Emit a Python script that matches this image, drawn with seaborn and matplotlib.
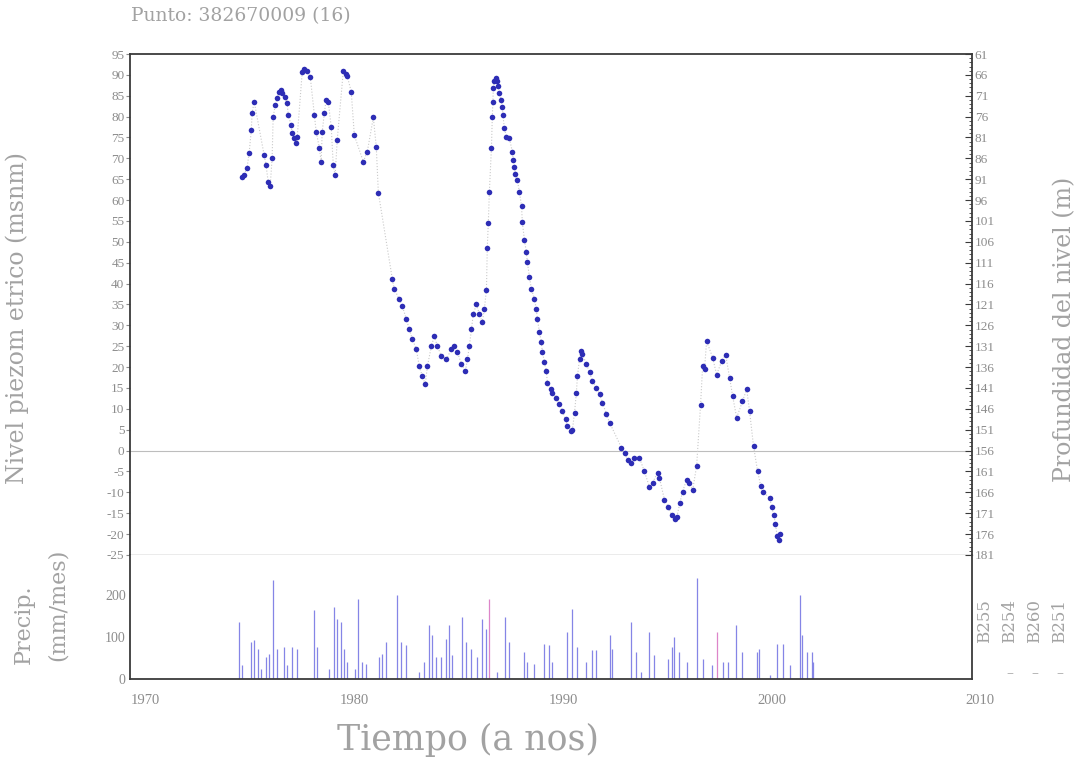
import matplotlib
matplotlib.use("Agg")
import matplotlib.pyplot as plt
from matplotlib.ticker import MultipleLocator
import seaborn as sns

# ── piezometric level (m a.s.l.) ─────────────────────────────────────
level_year = [
    1975.32, 1975.42, 1975.56, 1975.66, 1975.76, 1975.80, 1975.90,
    1976.38, 1976.47, 1976.57, 1976.67, 1976.76, 1976.81, 1976.91,
    1977.00, 1977.10, 1977.19, 1977.24, 1977.39, 1977.48, 1977.53, 1977.67, 1977.72, 1977.82, 1977.91, 1977.96,
    1978.20, 1978.30, 1978.44, 1978.59, 1978.78, 1978.87,
    1979.02, 1979.11, 1979.16, 1979.26, 1979.35, 1979.45, 1979.59, 1979.69, 1979.78, 1979.88,
    1980.17, 1980.31, 1980.36, 1980.55, 1980.70,
    1981.13, 1981.32, 1981.61, 1981.75, 1981.85,
    1982.52, 1982.61, 1982.85,
    1983.00, 1983.19, 1983.33, 1983.48, 1983.67, 1983.81, 1983.96,
    1984.10, 1984.20, 1984.39, 1984.53, 1984.68, 1984.87,
    1985.11, 1985.35, 1985.49, 1985.64, 1985.83,
    1986.02, 1986.12, 1986.21, 1986.31, 1986.40, 1986.55, 1986.69, 1986.83, 1986.93,
    1987.03, 1987.07, 1987.12, 1987.17, 1987.27, 1987.31, 1987.34, 1987.36, 1987.41, 1987.51, 1987.55, 1987.60, 1987.65, 1987.75, 1987.79, 1987.82, 1987.89, 1987.99,
    1988.13, 1988.27, 1988.32, 1988.37, 1988.42, 1988.51, 1988.61, 1988.71, 1988.75, 1988.85, 1988.94, 1988.99,
    1989.09, 1989.18, 1989.33, 1989.42, 1989.47, 1989.57, 1989.66, 1989.71, 1989.81, 1989.90, 1989.95,
    1990.10, 1990.19, 1990.38, 1990.53, 1990.67, 1990.82, 1990.91,
    1991.10, 1991.15, 1991.25, 1991.34, 1991.39, 1991.49, 1991.58, 1991.63, 1991.82, 1991.97,
    1992.11, 1992.30, 1992.45, 1992.59, 1992.78, 1992.93,
    1993.50, 1993.65, 1993.79, 1993.98,
    1994.12, 1994.36, 1994.60, 1994.84, 1994.99,
    1995.23, 1995.32, 1995.56, 1995.75, 1995.90,
    1996.05, 1996.15, 1996.30, 1996.43, 1996.62, 1996.76, 1996.91,
    1997.10, 1997.29, 1997.39, 1997.48, 1997.58, 1997.87,
    1998.06, 1998.30, 1998.49, 1998.68, 1998.83,
    1999.02, 1999.30, 1999.50, 1999.64, 1999.83,
    2000.02, 2000.17, 2000.26, 2000.60, 2000.70, 2000.80, 2000.88, 2000.96,
    2001.05, 2001.12,
]
level_m = [
    65.6, 66.0, 67.8, 71.4, 76.7, 80.8, 83.6,
    70.7, 68.3, 64.4, 63.5, 70.2, 80.0, 82.7,
    84.4, 86.0, 86.3, 85.6, 84.6, 83.2, 80.5, 77.9, 76.0, 74.8, 73.6, 75.0,
    90.6, 91.3, 90.9, 89.4, 80.5, 76.4,
    72.6, 69.2, 76.4, 80.8, 84.1, 83.6, 77.6, 68.3, 65.9, 74.5,
    90.9, 90.1, 89.7, 86.0, 75.5,
    69.2, 71.6, 79.8, 72.8, 61.8,
    41.1, 38.7, 36.3,
    34.6, 31.5, 29.1, 26.7, 24.3, 20.2, 17.8,
    15.9, 20.2, 25.0, 27.4, 25.0, 22.6,
    21.9, 24.3, 25.0, 23.6, 20.7,
    19.0, 21.9, 25.0, 29.1, 32.7, 35.1, 32.7, 30.8, 33.9,
    38.5, 48.6, 54.6, 62.0, 72.6, 79.8, 83.6, 86.8, 88.5, 89.2, 88.5, 87.3, 85.6, 83.9, 82.2, 80.3, 77.2, 75.2,
    74.8, 71.6, 69.5, 68.0, 66.3, 64.7, 62.0, 58.6, 54.7, 50.5, 47.6, 45.2,
    41.6, 38.8, 36.3, 33.9, 31.5, 28.4, 26.0, 23.6, 21.2, 19.0, 16.3,
    14.7, 13.9, 12.7, 11.1, 9.4, 7.5, 5.8,
    4.6, 5.0, 9.1, 13.9, 17.8, 21.9, 23.8, 23.1, 20.7, 18.8,
    16.6, 15.1, 13.5, 11.5, 8.7, 6.7,
    0.7, -0.5, -2.2, -2.9,
    -1.7, -1.7, -5.0, -8.7, -7.7,
    -5.3, -6.5, -11.8, -13.5, -15.5,
    -16.5, -16.0, -12.5, -9.8, -7.0, -7.7, -9.4,
    -3.8, 11.0, 20.2, 19.5, 26.2, 22.3,
    18.2, 21.4, 23.0, 17.5, 13.0,
    7.9, 11.8, 14.7, 9.4, 1.0,
    -4.8, -8.4, -9.8, -11.3, -13.5, -15.5, -17.5, -20.5,
    -21.5, -20.0,
]

# ── monthly precipitation spikes (mm/mes) ────────────────────────────
precip_year = [
    1975.18, 1975.32, 1975.76, 1975.90, 1976.09, 1976.24, 1976.47, 1976.62, 1976.81, 1977.00,
    1977.34, 1977.48, 1977.72, 1977.96, 1978.78, 1978.92, 1979.50, 1979.74, 1979.88, 1980.07,
    1980.22, 1980.36, 1980.74, 1980.89, 1981.08, 1981.27, 1981.89, 1982.04, 1982.23, 1982.76,
    1982.95, 1983.19, 1983.81, 1984.05, 1984.29, 1984.44, 1984.63, 1984.87, 1985.11, 1985.25,
    1985.40, 1985.88, 1986.07, 1986.31, 1986.59, 1986.83, 1987.03, 1987.55, 1987.94, 1988.13,
    1988.85, 1988.99, 1989.33, 1989.81, 1990.05, 1990.19, 1990.91, 1991.15, 1991.39, 1991.82,
    1992.11, 1992.30, 1992.93, 1993.07, 1993.98, 1994.22, 1994.46, 1994.84, 1995.08, 1995.71,
    1995.90, 1996.00, 1996.28, 1996.62, 1997.10, 1997.43, 1997.82, 1998.35, 1998.59, 1998.97,
    1999.26, 1999.98, 2000.07, 2000.60, 2000.94, 2001.22, 2001.56, 2002.04, 2002.13, 2002.37,
    2002.61, 2002.66,
]
precip_mm = [
    136, 33, 88, 93, 72, 24, 52, 60, 235, 72,
    76, 33, 76, 72, 164, 76, 24, 171, 143, 136,
    72, 40, 24, 190, 40, 36, 52, 60, 88, 200,
    88, 81, 17, 40, 129, 105, 52, 52, 95, 129,
    57, 148, 88, 72, 52, 143, 119, 17, 148, 88,
    64, 40, 36, 83, 81, 40, 112, 167, 76, 40,
    69, 69, 105, 72, 136, 64, 17, 112, 57, 48,
    76, 100, 64, 40, 240, 48, 33, 40, 40, 129,
    64, 64, 72, 10, 83, 83, 33, 200, 105, 64,
    64, 40,
]
precip2_year = [1987.17, 1998.06]
precip2_mm = [190, 112]

level_ticks = list(range(95, -30, -5))
depth_ticks = list(range(61, 186, 5))
precip_ticks = [0, 100, 200]
year_ticks = [1970, 1980, 1990, 2000, 2010]
station_labels = ["B255", "B254", "B260", "B251"]

TXT = "#a2a2a2"
TICK = "#8c8c8c"
FRAME = "#3a3a3a"
DOT = "#2d2db5"

sns.set_style("white")
plt.rcParams["font.family"] = ["DejaVu Serif"]

fig = plt.figure(figsize=(10.89, 7.66), dpi=100)
ax = fig.add_axes([0.1194, 0.2755, 0.7732, 0.654])
axp = fig.add_axes([0.1194, 0.1136, 0.7732, 0.1619], sharex=ax)

# ── level panel ──────────────────────────────────────────────────────
ax.axhline(0, color="#bdbdbd", lw=0.8, zorder=1)
sns.lineplot(x=level_year, y=level_m, ax=ax, estimator=None, sort=False,
             color="#c9c9c9", lw=0.8, linestyle=":", zorder=2)
sns.scatterplot(x=level_year, y=level_m, ax=ax, s=16, color=DOT,
                linewidth=0, zorder=3)
ax.set_xlim(1969.95, 2010.3)
ax.set_ylim(-25, 95)
ax.set_yticks(level_ticks)
ax.set_yticklabels([str(v) for v in level_ticks], family="Liberation Serif")
ax.tick_params(axis="x", bottom=False, labelbottom=False)
ax.tick_params(axis="y", direction="out", length=3, width=0.8, color=TICK,
               labelcolor=TICK, labelsize=9.5, pad=1)
for side in ["top", "left", "right"]:
    ax.spines[side].set_color(FRAME)
    ax.spines[side].set_linewidth(1.3)
ax.spines["bottom"].set_color("#9e9e9e")
ax.spines["bottom"].set_linewidth(1.0)

# depth axis on the right: depth = 156 - level
axr = ax.twinx()
axr.set_ylim(181, 61)
axr.set_yticks(depth_ticks)
axr.set_yticklabels([str(v) for v in depth_ticks], family="Liberation Serif")
axr.yaxis.set_minor_locator(MultipleLocator(1))
axr.tick_params(axis="y", which="major", direction="in", length=5, width=0.8,
                color=FRAME, labelcolor=TICK, labelsize=9.5, pad=2)
axr.tick_params(axis="y", which="minor", direction="in", length=2, width=0.6, color=FRAME)
for side in axr.spines:
    axr.spines[side].set_visible(False)

# ── precipitation panel ─────────────────────────────────────────────
axp.vlines(precip_year, 0, precip_mm, color="#8585e6", lw=0.9, zorder=2)
axp.vlines(precip2_year, 0, precip2_mm, color="#dd85c9", lw=0.9, zorder=2)
axp.set_ylim(0, 295)
axp.set_yticks(precip_ticks)
axp.set_yticklabels([str(v) for v in precip_ticks], family="Liberation Serif")
axp.set_xticks(year_ticks)
axp.set_xticklabels([str(v) for v in year_ticks], family="Liberation Serif", ha="left")
axp.xaxis.set_minor_locator(MultipleLocator(1))
axp.tick_params(axis="x", which="major", direction="out", length=5, width=0.8,
                color=TICK, labelcolor=TICK, labelsize=10.5, pad=6)
axp.tick_params(axis="x", which="minor", direction="out", length=2, width=0.6, color=TICK)
axp.tick_params(axis="y", direction="out", length=0, labelcolor=TICK, labelsize=10, pad=3)
axp.spines["top"].set_visible(False)
for side in ["bottom", "left", "right"]:
    axp.spines[side].set_color(FRAME)
    axp.spines[side].set_linewidth(1.3)
axp.set_xlabel("")
axp.set_ylabel("")
ax.set_xlabel("")
ax.set_ylabel("")

# ── texts ───────────────────────────────────────────────────────────
fig.text(0.120, 0.979, "Punto: 382670009 (16)", ha="left", va="center",
         fontsize=13.5, color=TXT)
fig.text(0.430, 0.034, "Tiempo (a nos)", ha="center", va="center",
         fontsize=25, color=TXT)
fig.text(0.016, 0.585, "Nivel piezom etrico (msnm)", rotation=90,
         ha="center", va="center", fontsize=17, color=TXT)
fig.text(0.978, 0.57, "Profundidad del nivel (m)", rotation=90,
         ha="center", va="center", fontsize=17, color=TXT)
fig.text(0.022, 0.185, "Precip.", rotation=90, ha="center", va="center",
         fontsize=16, color=TXT)
fig.text(0.053, 0.21, "(mm/mes)", rotation=90, ha="center", va="center",
         fontsize=16, color=TXT)
for i, name in enumerate(station_labels):
    x = (985 + 25 * i) / 1089
    fig.text(x, 1 - 643 / 766, name, rotation=90, ha="center", va="bottom",
             fontsize=12, color=TXT)
    if i > 0:
        fig.text(x, 1 - 673 / 766, "–", ha="center", va="center",
                 fontsize=10, color=TXT)

fig.savefig("out.png", dpi=100)
